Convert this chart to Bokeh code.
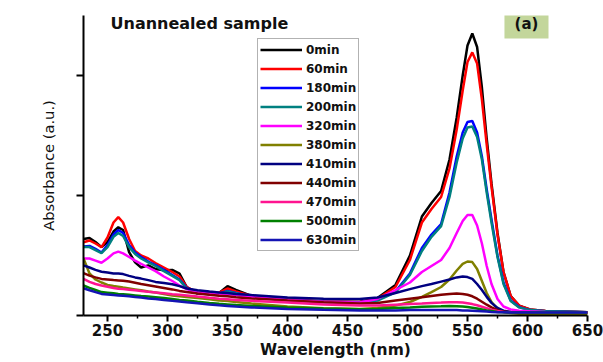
from bokeh.plotting import figure
from bokeh.models import Range1d, FixedTicker, Legend, LegendItem, Label, BoxAnnotation
from bokeh.embed import file_html
from bokeh.resources import INLINE

wavelength = [230, 235, 240, 245, 250, 255, 259, 263, 268, 273, 278, 284, 290, 297, 304, 310,
              316, 325, 335, 343, 350, 357, 370, 400, 430, 460, 475, 490, 502, 512, 520, 528,
              535, 541, 546, 550, 554, 558, 562, 566, 570, 575, 580, 586, 593, 602, 615, 650]

abs_0min = [0.255, 0.258, 0.245, 0.228, 0.245, 0.280, 0.294, 0.285, 0.211, 0.177, 0.160, 0.167,
            0.155, 0.151, 0.152, 0.140, 0.095, 0.073, 0.073, 0.075, 0.098, 0.085, 0.065, 0.053,
            0.047, 0.045, 0.058, 0.102, 0.200, 0.330, 0.375, 0.415, 0.520, 0.660, 0.800, 0.900,
            0.940, 0.895, 0.760, 0.590, 0.440, 0.275, 0.145, 0.065, 0.033, 0.020, 0.015, 0.011]
abs_60min = [0.244, 0.250, 0.240, 0.228, 0.260, 0.310, 0.328, 0.310, 0.255, 0.215, 0.200, 0.190,
             0.175, 0.160, 0.145, 0.130, 0.095, 0.077, 0.074, 0.076, 0.090, 0.080, 0.065, 0.053,
             0.047, 0.045, 0.056, 0.095, 0.185, 0.310, 0.355, 0.395, 0.490, 0.620, 0.750, 0.845,
             0.877, 0.840, 0.720, 0.570, 0.430, 0.270, 0.145, 0.065, 0.033, 0.020, 0.015, 0.011]
abs_180min = [0.230, 0.232, 0.222, 0.210, 0.235, 0.270, 0.285, 0.275, 0.235, 0.210, 0.195, 0.180,
              0.168, 0.152, 0.135, 0.120, 0.092, 0.075, 0.072, 0.073, 0.082, 0.075, 0.063, 0.052,
              0.046, 0.044, 0.052, 0.080, 0.140, 0.225, 0.270, 0.305, 0.410, 0.530, 0.610, 0.645,
              0.648, 0.610, 0.530, 0.420, 0.320, 0.200, 0.110, 0.050, 0.028, 0.018, 0.014, 0.011]
abs_200min = [0.228, 0.228, 0.218, 0.208, 0.228, 0.262, 0.275, 0.265, 0.228, 0.205, 0.190, 0.177,
              0.165, 0.148, 0.132, 0.118, 0.090, 0.074, 0.071, 0.072, 0.080, 0.074, 0.062, 0.051,
              0.045, 0.043, 0.050, 0.077, 0.135, 0.215, 0.262, 0.298, 0.395, 0.510, 0.590, 0.627,
              0.630, 0.595, 0.520, 0.410, 0.310, 0.195, 0.105, 0.048, 0.027, 0.018, 0.014, 0.011]
abs_320min = [0.190, 0.190, 0.183, 0.176, 0.190, 0.207, 0.213, 0.207, 0.195, 0.183, 0.172, 0.160,
              0.148, 0.130, 0.115, 0.100, 0.088, 0.077, 0.072, 0.070, 0.072, 0.068, 0.062, 0.052,
              0.046, 0.043, 0.055, 0.085, 0.110, 0.145, 0.165, 0.185, 0.225, 0.275, 0.315, 0.335,
              0.335, 0.300, 0.240, 0.165, 0.105, 0.055, 0.030, 0.020, 0.016, 0.014, 0.012, 0.010]
abs_380min = [0.190, 0.140, 0.120, 0.110, 0.102, 0.098, 0.096, 0.093, 0.090, 0.087, 0.084, 0.080,
              0.077, 0.072, 0.067, 0.064, 0.062, 0.058, 0.054, 0.050, 0.048, 0.045, 0.040, 0.030,
              0.024, 0.022, 0.025, 0.033, 0.045, 0.062, 0.078, 0.095, 0.120, 0.150, 0.172, 0.180,
              0.178, 0.155, 0.115, 0.075, 0.045, 0.022, 0.012, 0.008, 0.006, 0.005, 0.005, 0.005]
abs_410min = [0.167, 0.160, 0.152, 0.146, 0.143, 0.140, 0.140, 0.138, 0.132, 0.127, 0.123, 0.118,
              0.112, 0.108, 0.104, 0.098, 0.090, 0.084, 0.080, 0.077, 0.075, 0.072, 0.068, 0.060,
              0.056, 0.055, 0.060, 0.075, 0.088, 0.098, 0.105, 0.113, 0.120, 0.127, 0.130, 0.128,
              0.122, 0.105, 0.085, 0.062, 0.042, 0.025, 0.016, 0.012, 0.011, 0.011, 0.011, 0.010]
abs_440min = [0.141, 0.133, 0.127, 0.122, 0.120, 0.118, 0.117, 0.116, 0.113, 0.109, 0.105, 0.101,
              0.097, 0.092, 0.087, 0.082, 0.078, 0.073, 0.069, 0.066, 0.064, 0.061, 0.057, 0.050,
              0.044, 0.040, 0.042, 0.050, 0.056, 0.061, 0.065, 0.069, 0.072, 0.073, 0.072, 0.069,
              0.064, 0.056, 0.046, 0.036, 0.027, 0.018, 0.013, 0.011, 0.010, 0.010, 0.010, 0.010]
abs_470min = [0.122, 0.112, 0.105, 0.100, 0.096, 0.092, 0.089, 0.088, 0.086, 0.084, 0.082, 0.079,
              0.077, 0.074, 0.071, 0.069, 0.067, 0.063, 0.059, 0.056, 0.054, 0.052, 0.049, 0.043,
              0.037, 0.033, 0.033, 0.036, 0.038, 0.040, 0.042, 0.043, 0.044, 0.044, 0.043, 0.041,
              0.038, 0.034, 0.029, 0.024, 0.019, 0.015, 0.012, 0.011, 0.010, 0.010, 0.010, 0.010]
abs_500min = [0.100, 0.092, 0.085, 0.078, 0.076, 0.074, 0.072, 0.071, 0.069, 0.067, 0.065, 0.063,
              0.061, 0.058, 0.055, 0.052, 0.050, 0.046, 0.042, 0.039, 0.037, 0.035, 0.032, 0.027,
              0.023, 0.021, 0.022, 0.025, 0.027, 0.029, 0.030, 0.031, 0.032, 0.031, 0.030, 0.028,
              0.026, 0.023, 0.020, 0.017, 0.015, 0.012, 0.011, 0.010, 0.010, 0.010, 0.010, 0.010]
abs_630min = [0.091, 0.084, 0.078, 0.072, 0.070, 0.068, 0.067, 0.066, 0.064, 0.062, 0.060, 0.057,
              0.055, 0.052, 0.049, 0.047, 0.044, 0.041, 0.037, 0.034, 0.032, 0.030, 0.027, 0.022,
              0.019, 0.017, 0.017, 0.017, 0.018, 0.018, 0.018, 0.018, 0.018, 0.018, 0.017, 0.017,
              0.016, 0.015, 0.014, 0.013, 0.012, 0.011, 0.011, 0.010, 0.010, 0.010, 0.010, 0.010]

series_labels = ["0min", "60min", "180min", "200min", "320min", "380min",
                 "410min", "440min", "470min", "500min", "630min"]
series_values = [abs_0min, abs_60min, abs_180min, abs_200min, abs_320min, abs_380min,
                 abs_410min, abs_440min, abs_470min, abs_500min, abs_630min]
series_colors = ["#000000", "#ff0000", "#0000ff", "#008080", "#ff00ff", "#808000",
                 "#000080", "#800000", "#ff1490", "#008000", "#1414b4"]

x_ticks = [250, 300, 350, 400, 450, 500, 550, 600, 650]
x_minor = [275, 325, 375, 425, 475, 525, 575, 625]
y_ticks = [0, 0.4, 0.8]

FONT = "DejaVu Sans"

p = figure(width=603, height=362, output_backend="svg", toolbar_location=None,
           x_range=Range1d(230, 650), y_range=Range1d(0, 1.0),
           min_border_left=83, min_border_right=16, min_border_top=15, min_border_bottom=47,
           background_fill_color="white", border_fill_color="white")
p.outline_line_color = None
p.grid.visible = False

xa = p.xaxis[0]
xa.ticker = FixedTicker(ticks=x_ticks, minor_ticks=x_minor)
xa.axis_line_width = 2
xa.axis_line_color = "#000000"
xa.major_tick_line_width = 2
xa.major_tick_out = 6
xa.major_tick_in = 0
xa.minor_tick_line_width = 1.5
xa.minor_tick_out = 3
xa.minor_tick_in = 0
xa.major_label_text_font = FONT
xa.major_label_text_font_style = "bold"
xa.major_label_text_font_size = "15px"
xa.major_label_text_color = "#111111"
xa.major_label_standoff = 2
xa.axis_label = "Wavelength (nm)"
xa.axis_label_text_font = FONT
xa.axis_label_text_font_style = "bold"
xa.axis_label_text_font_size = "15.5px"
xa.axis_label_text_color = "#111111"
xa.axis_label_standoff = 2

ya = p.yaxis[0]
ya.ticker = FixedTicker(ticks=y_ticks, minor_ticks=[])
ya.axis_line_width = 2
ya.axis_line_color = "#000000"
ya.major_tick_line_width = 2
ya.major_tick_out = 7
ya.major_tick_in = 0
ya.minor_tick_out = 0
ya.minor_tick_in = 0
ya.major_label_overrides = {0: "", 0.4: "", 0.8: ""}
ya.major_label_standoff = 0
ya.axis_label = "Absorbance (a.u.)"
ya.axis_label_text_font = FONT
ya.axis_label_text_font_style = "normal"
ya.axis_label_text_font_size = "14.7px"
ya.axis_label_text_color = "#111111"
ya.axis_label_standoff = 20

renderers = []
for vals, col in zip(series_values, series_colors):
    r = p.line(wavelength, vals, line_color=col, line_width=2.5)
    renderers.append(r)

box_r = p.rect(x=[], y=[], width=1, height=1, fill_color=None,
               line_color="#8fd18f", line_width=1.2)

items = []
for i, (lab, r) in enumerate(zip(series_labels, renderers)):
    rs = [box_r, r] if i == 0 else [r]
    items.append(LegendItem(label=lab, renderers=rs))

legend = Legend(items=items, location=(174, 64),
                glyph_width=42, glyph_height=17, label_height=17, spacing=2,
                padding=2, margin=0, label_standoff=4,
                label_text_font=FONT, label_text_font_style="bold",
                label_text_font_size="12px", label_text_color="#111111",
                border_line_color="#666666", border_line_width=1,
                background_fill_color="white", background_fill_alpha=1.0)
p.add_layout(legend)

title_lbl = Label(x=252.5, y=0.972, text="Unannealed sample", text_font=FONT,
                  text_font_style="bold", text_font_size="16px", text_color="#111111",
                  text_align="left", text_baseline="alphabetic")
p.add_layout(title_lbl)

panel_box = BoxAnnotation(left=580.8, right=617.5, bottom=0.9233, top=1.0233,
                          fill_color="#c3d69b", fill_alpha=1.0, line_color=None)
p.add_layout(panel_box)

panel_lbl = Label(x=599.2, y=0.9733, text="(a)", text_font=FONT,
                  text_font_style="bold", text_font_size="15px", text_color="#111111",
                  text_align="center", text_baseline="middle")
p.add_layout(panel_lbl)

open("out.html", "w").write(file_html(p, INLINE))
